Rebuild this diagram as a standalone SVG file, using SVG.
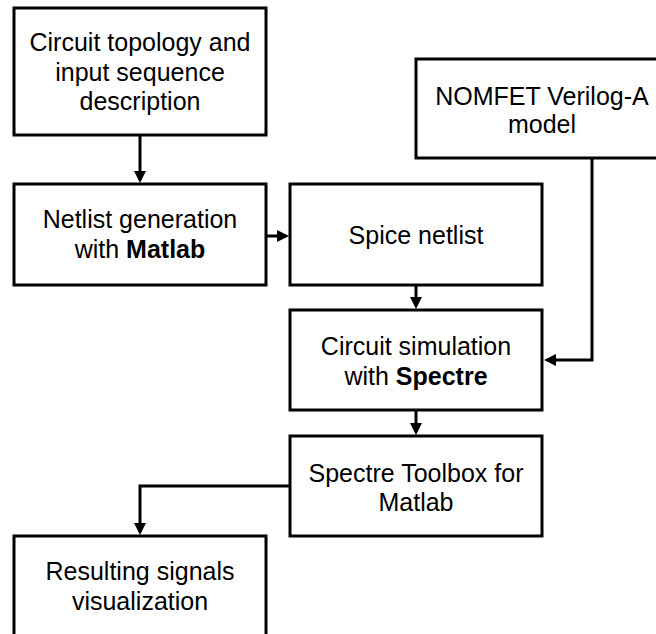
<svg xmlns="http://www.w3.org/2000/svg" width="656" height="634" viewBox="0 0 656 634">
<style>
.box{fill:#fff;stroke:#000;stroke-width:3}
.t{font-family:"Liberation Sans",Arial,sans-serif;font-size:25px;fill:#000;text-anchor:middle}
.b{font-weight:bold}
.c{fill:none;stroke:#000;stroke-width:3}
</style>
<defs>
<marker id="ah" viewBox="0 0 12 12" refX="9" refY="6" markerWidth="12" markerHeight="12" markerUnits="userSpaceOnUse" orient="auto">
<path d="M0,0 L12,6 L0,12 z" fill="#000"/>
</marker>
</defs>
<rect width="656" height="634" fill="#fff"/>
<g id="connectors">
<path class="c" d="M140 135 V180" marker-end="url(#ah)"/>
<path class="c" d="M266 236 H286" marker-end="url(#ah)"/>
<path class="c" d="M416 285 V306" marker-end="url(#ah)"/>
<path class="c" d="M592 158 V360 H547" marker-end="url(#ah)"/>
<path class="c" d="M416 410 V432" marker-end="url(#ah)"/>
<path class="c" d="M290 486 H140 V532" marker-end="url(#ah)"/>
</g>
<g id="topology">
<rect class="box" x="14" y="8" width="252" height="127"/>
<text class="t" x="140" y="51">Circuit topology and</text>
<text class="t" x="140" y="81">input sequence</text>
<text class="t" x="140" y="110">description</text>
</g>
<g id="nomfet">
<rect class="box" x="416" y="59" width="252" height="99"/>
<text class="t" x="542" y="105">NOMFET Verilog-A</text>
<text class="t" x="542" y="133">model</text>
</g>
<g id="netlistgen">
<rect class="box" x="14" y="184" width="252" height="101"/>
<text class="t" x="140" y="228">Netlist generation</text>
<text class="t" x="140" y="258">with <tspan class="b">Matlab</tspan></text>
</g>
<g id="spice">
<rect class="box" x="290" y="184" width="252" height="101"/>
<text class="t" x="416" y="244">Spice netlist</text>
</g>
<g id="simulation">
<rect class="box" x="290" y="310" width="252" height="100"/>
<text class="t" x="416" y="355">Circuit simulation</text>
<text class="t" x="416" y="385">with <tspan class="b">Spectre</tspan></text>
</g>
<g id="toolbox">
<rect class="box" x="290" y="436" width="252" height="100"/>
<text class="t" x="416" y="482">Spectre Toolbox for</text>
<text class="t" x="416" y="511">Matlab</text>
</g>
<g id="results">
<rect class="box" x="14" y="536" width="252" height="112"/>
<text class="t" x="140" y="580">Resulting signals</text>
<text class="t" x="140" y="610">visualization</text>
</g>
</svg>
